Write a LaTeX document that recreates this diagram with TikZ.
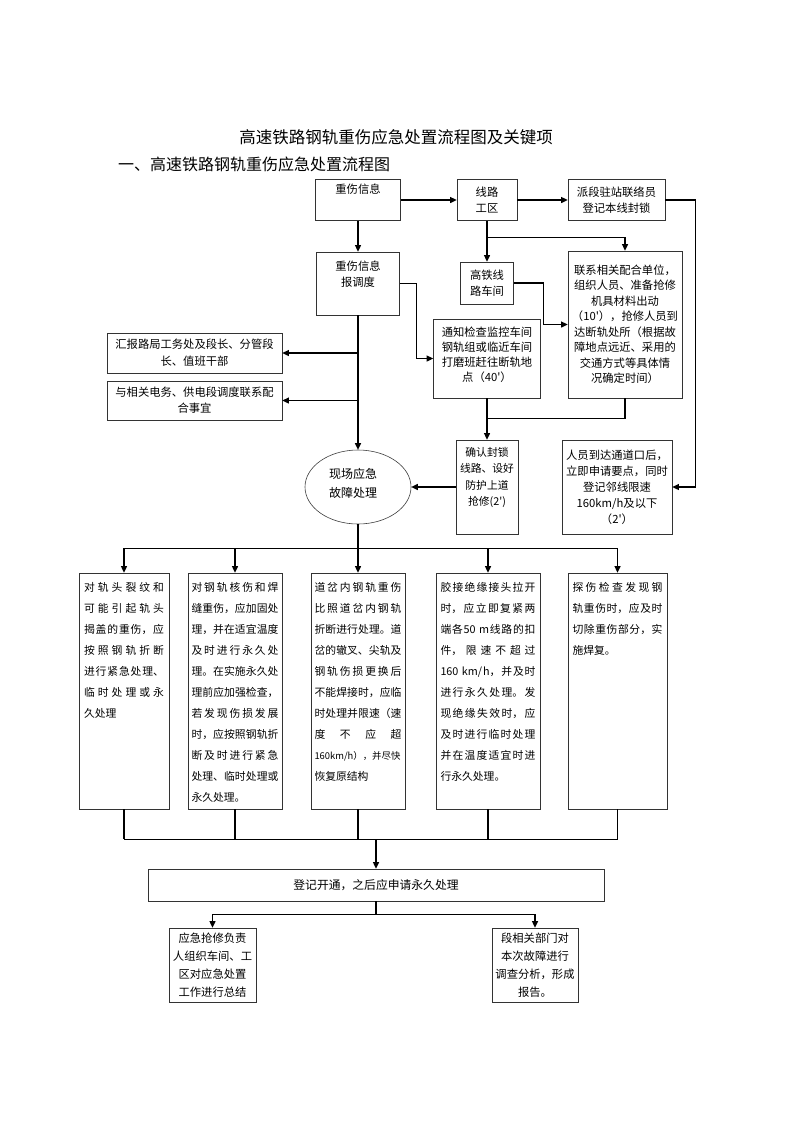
\documentclass[tikz,border=0pt]{standalone}
\usepackage{fontspec}
\setmainfont{Noto Sans CJK SC}[Ligatures=TeXOff]
\usetikzlibrary{arrows.meta,calc,shapes.geometric}
\XeTeXlinebreaklocale "zh"
\XeTeXlinebreakskip=0pt plus 1pt
\tolerance=10000
\hbadness=10000
\tikzset{
  box/.style={draw=black!80, line width=0.75pt, rectangle, inner sep=0pt},
  lbl/.style={font=\fontsize{11.3}{15.5}\selectfont, align=center, inner sep=0pt},
  btxt/.style={font=\fontsize{10.8}{21}\selectfont, align=justify, inner sep=0pt, anchor=north},
  conn/.style={line width=1.2pt, black},
  arr/.style={conn, -{Triangle[length=6.5pt,width=6pt]}},
  ttl/.style={font=\fontsize{16.5}{18}\selectfont, inner sep=0pt}
}
\begin{document}
\tolerance=10000
\hbadness=10000
\begin{tikzpicture}[x=1pt,y=-1pt]
\useasboundingbox (0,0) rectangle (793,1122);
\fill[white] (0,0) rectangle (793,1122);

% titles
\node[ttl] (title) at (396,137) {高速铁路钢轨重伤应急处置流程图及关键项};
\node[ttl, font=\fontsize{16}{18}\selectfont, anchor=west] (sub) at (118,164) {一、高速铁路钢轨重伤应急处置流程图};

% top row
\node[box, minimum width=85pt, minimum height=41pt] (n1) at (358,200) {};
\node[lbl, anchor=north] (n1t) at ($(n1.north)+(0,5)$) {重伤信息};
\node[box, minimum width=60pt, minimum height=41pt, lbl] (n2) at (487,200) {线路\\工区};
\node[box, minimum width=97pt, minimum height=41pt, lbl] (n3) at (616.5,200) {派段驻站联络员\\登记本线封锁};

% second row
\node[box, minimum width=83pt, minimum height=63pt] (n4) at (358,283.5) {};
\node[lbl, anchor=north] (n4t) at ($(n4.north)+(0,9.5)$) {重伤信息\\报调度};
\node[box, minimum width=53pt, minimum height=42pt, lbl] (n5) at (487,283) {高铁线\\路车间};
\node[box, minimum width=114pt, minimum height=147pt, lbl] (n6) at (625,324.5) {联系相关配合单位，\\组织人员、准备抢修\\机具材料出动\\（10'），抢修人员到\\达断轨处所（根据故\\障地点远近、采用的\\交通方式等具体情\\况确定时间）};
\node[box, minimum width=107pt, minimum height=79pt] (n7) at (487,358.5) {};
\node[lbl, anchor=north, font=\fontsize{11.3}{15}\selectfont] (n7t) at ($(n7.north)+(0,8.5)$) {通知检查监控车间\\钢轨组或临近车间\\打磨班赶往断轨地\\点（40'）};

% left boxes
\node[box, minimum width=175pt, minimum height=40pt, lbl, font=\fontsize{11.3}{17}\selectfont] (L1) at (194.5,353) {汇报路局工务处及段长、分管段\\长、值班干部};
\node[box, minimum width=175pt, minimum height=39pt, lbl, font=\fontsize{11.3}{16}\selectfont] (L2) at (194.5,400.5) {与相关电务、供电段调度联系配\\合事宜};

% third row
\node[draw=black!75, line width=0.6pt, ellipse, minimum width=106pt, minimum height=74pt, inner sep=0pt] (e) at (358,487) {};
\node[lbl, font=\fontsize{12}{19}\selectfont] (et) at (353,483) {现场应急\\故障处理};
\node[box, minimum width=62pt, minimum height=94pt] (n8) at (487,487) {};
\node[lbl, anchor=north, font=\fontsize{10.8}{16.3}\selectfont] (n8t) at ($(n8.north)+(0,7.5)$) {确认封锁\\线路、设好\\防护上道\\抢修(2')};
\node[box, minimum width=110pt, minimum height=94pt, lbl, font=\fontsize{11.3}{16}\selectfont] (n9) at (617,487) {人员到达通道口后，\\立即申请要点，同时\\登记邻线限速\\160km/h及以下\\（2'）};

% five boxes
\node[box, minimum width=90pt, minimum height=236pt] (B1) at (124,691) {};
\node[box, minimum width=94pt, minimum height=236pt] (B2) at (235,691) {};
\node[box, minimum width=94pt, minimum height=236pt] (B3) at (358,691) {};
\node[box, minimum width=104pt, minimum height=236pt] (B4) at (488,691) {};
\node[box, minimum width=99pt, minimum height=236pt] (B5) at (617.5,691) {};

\node[btxt, text width=80pt] (B1t) at ($(B1.north)+(0,9.5)$) {对轨头裂纹和\linebreak 可能引起轨头\linebreak 揭盖的重伤，应\linebreak 按照钢轨折断\linebreak 进行紧急处理、\linebreak 临时处理或永\linebreak 久处理};
\node[btxt, text width=87pt] (B2t) at ($(B2.north)+(0,9.5)$) {对钢轨核伤和焊\linebreak 缝重伤，应加固处\linebreak 理，并在适宜温度\linebreak 及时进行永久处\linebreak 理。在实施永久处\linebreak 理前应加强检查，\linebreak 若发现伤损发展\linebreak 时，应按照钢轨折\linebreak 断及时进行紧急\linebreak 处理、临时处理或\linebreak 永久处理。};
\node[btxt, text width=87pt] (B3t) at ($(B3.north)+(0,9.5)$) {道岔内钢轨重伤\linebreak 比照道岔内钢轨\linebreak 折断进行处理。道\linebreak 岔的辙叉、尖轨及\linebreak 钢轨伤损更换后\linebreak 不能焊接时，应临\linebreak 时处理并限速（速\linebreak 度不应超\linebreak \mbox{\fontsize{9.4}{21}\selectfont 160km/h），并尽快}\linebreak 恢复原结构};
\node[btxt, text width=95pt] (B4t) at ($(B4.north)+(0,9.5)$) {胶接绝缘接头拉开\linebreak 时，应立即复紧两\linebreak 端各50 m线路的扣\linebreak 件，限速不超过\linebreak 160 km/h，并及时\linebreak 进行永久处理。发\linebreak 现绝缘失效时，应\linebreak 及时进行临时处理\linebreak 并在温度适宜时进\linebreak 行永久处理。};
\node[btxt, text width=90pt] (B5t) at ($(B5.north)+(0,9.5)$) {探伤检查发现钢\linebreak 轨重伤时，应及时\linebreak 切除重伤部分，实\linebreak 施焊复。};

% bottom
\node[box, minimum width=456pt, minimum height=32pt, lbl, font=\fontsize{11.8}{15}\selectfont] (D) at (376,885) {登记开通，之后应申请永久处理};
\node[box, minimum width=87pt, minimum height=74pt, lbl, font=\fontsize{11.3}{18}\selectfont] (F1) at (212.5,965) {应急抢修负责\\人组织车间、工\\区对应急处置\\工作进行总结};
\node[box, minimum width=86pt, minimum height=74pt, lbl, font=\fontsize{11.3}{18}\selectfont] (F2) at (535,965) {段相关部门对\\本次故障进行\\调查分析，形成\\报告。};

% connectors top
\draw[arr] (n1.east) -- (n2.west);
\draw[arr] (n2.east) -- (n3.west);
\draw[arr] (n3.east) -- ++(30,0) |- (n9.east);
\draw[arr] (n1.south) -- (n4.north);
\draw[arr] (n4.south) -- (e.north);
\coordinate (j1) at (n4.south |- L1.east);
\coordinate (j2) at (n4.south |- L2.east);
\draw[arr] (j1) -- (L1.east);
\draw[arr] (j2) -- (L2.east);
\draw[arr] (n2.south) -- (n5.north);
\coordinate (j4) at ($(n2.south)+(0,17)$);
\draw[arr] (j4) -| (n6.north);
\draw[arr] (n5.east) -- ++(30,0) |- (n6.west);
\draw[arr] (n4.east) -- ++(17,0) |- (n7.west);
\draw[arr] (n7.south) -- (n8.north);
\coordinate (j5) at ($(n7.south)+(0,20)$);
\draw[conn] (n6.south) |- (j5);
\draw[arr] (n8.west) -- (e.east);

% connectors to five boxes
\coordinate (bus1) at ($(e.south)+(0,24)$);
\draw[conn] (e.south) -- (bus1);
\draw[conn] (B1.north |- bus1) -- (B5.north |- bus1);
\foreach \b in {B1,B2,B3,B4,B5} {
  \draw[arr] (\b.north |- bus1) -- (\b.north);
}
\coordinate (bus2) at ($(B1.south)+(0,30)$);
\foreach \b in {B1,B2,B3,B4,B5} {
  \draw[conn] (\b.south) -- (\b.south |- bus2);
}
\draw[conn] (B1.south |- bus2) -- (B5.south |- bus2);
\draw[arr] (D.north |- bus2) -- (D.north);

\coordinate (bus3) at ($(D.south)+(0,13)$);
\draw[conn] (D.south) -- (bus3);
\draw[conn] (F1.north |- bus3) -- (F2.north |- bus3);
\draw[arr] (F1.north |- bus3) -- (F1.north);
\draw[arr] (F2.north |- bus3) -- (F2.north);
\end{tikzpicture}
\end{document}
